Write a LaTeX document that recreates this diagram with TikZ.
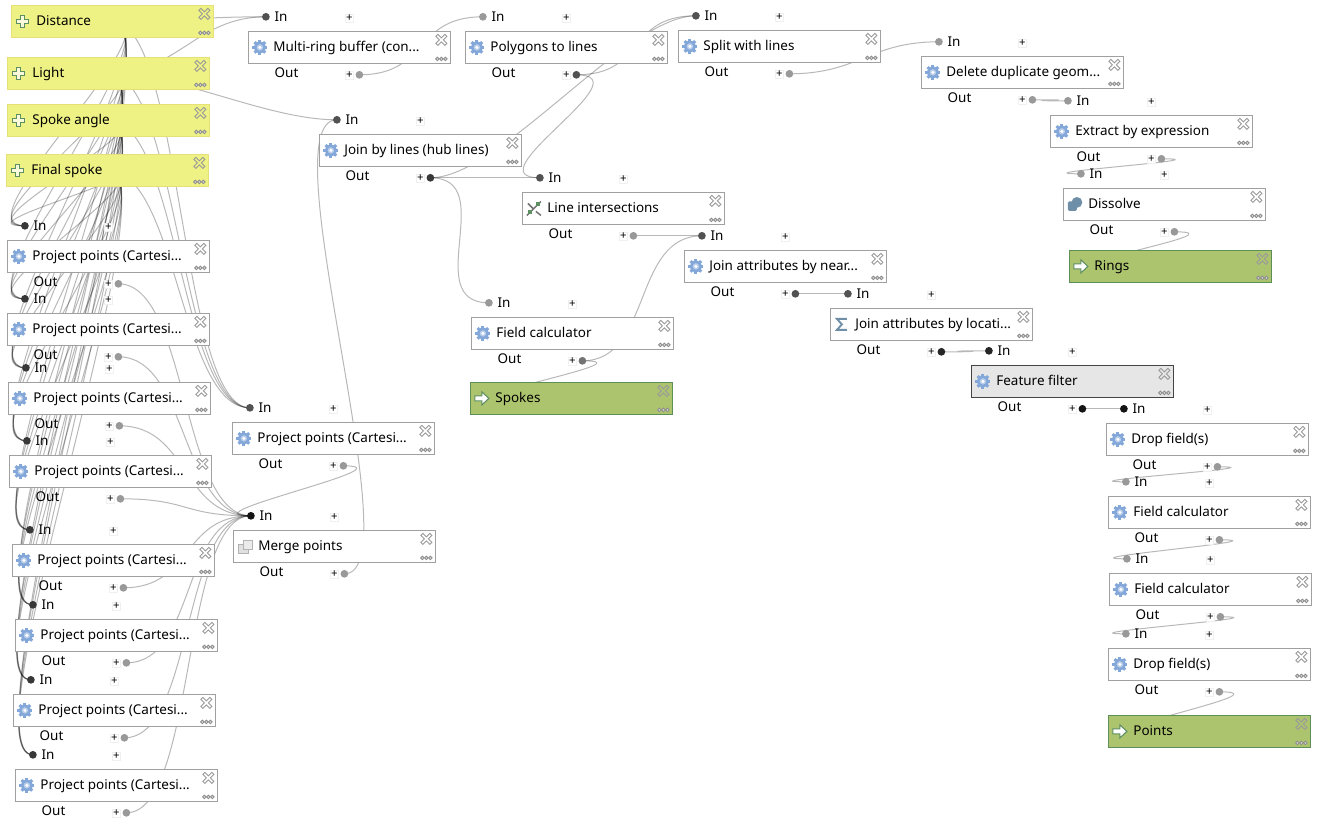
\documentclass[tikz,border=0pt]{standalone}
\usepackage{fontspec}
\setmainfont{Noto Sans}
\usetikzlibrary{positioning,backgrounds}
\definecolor{boxline}{HTML}{A0A0A0}
\definecolor{inputfill}{HTML}{EEF184}
\definecolor{inputline}{HTML}{E6E077}
\definecolor{outputfill}{HTML}{ADC46F}
\definecolor{outputline}{HTML}{5E8F57}
\definecolor{selectfill}{HTML}{E6E6E6}
\definecolor{selectline}{HTML}{444444}
\definecolor{gearblue}{HTML}{84A7D9}
\definecolor{crossgreen}{HTML}{5E8F63}
\definecolor{slateblue}{HTML}{6F8FA8}
\tikzset{
  stepbox/.style={draw=boxline,fill=white,line width=.75pt,minimum height=24pt,inner xsep=18.75pt,inner ysep=0pt,font=\fontsize{10.1}{11}\selectfont,text height=7.5pt,text depth=1.5pt},
  inputbox/.style={stepbox,draw=inputline,fill=inputfill},
  outputbox/.style={stepbox,draw=outputline,fill=outputfill},
  selectbox/.style={stepbox,draw=selectline,fill=selectfill},
  portdot/.style={circle,inner sep=0pt,minimum size=5.8pt},
  porttext/.style={inner sep=0pt,anchor=west,font=\fontsize{10.1}{11}\selectfont,text height=7.5pt,text depth=2.5pt},
  plusmark/.style={draw=black!6,fill=white,inner sep=0pt,minimum size=6pt,line width=.4pt,font=\fontsize{8.5}{8.5}\bfseries},
  wire/.style={draw=black,opacity=.28,line width=.75pt,to path={.. controls +(70,0) and +(-70,0) .. (\tikztotarget)}},
  closemark/.pic={
    \draw[black!40,line width=.7pt] (0,2) -- (3.5,5.5) -- (5.5,3.5) -- (2,0) -- (5.5,-3.5) -- (3.5,-5.5) -- (0,-2) -- (-3.5,-5.5) -- (-5.5,-3.5) -- (-2,0) -- (-5.5,3.5) -- (-3.5,5.5) -- cycle;
  },
  moremark/.pic={
    \foreach \dx in {-4,0,4} \draw[black!45,fill=black!15,line width=.6pt] (\dx,0) circle (1.8);
  },
  gearicon/.pic={
    \foreach \a in {0,45,...,315} \draw[gearblue,line width=2.3pt] (\a:4) -- (\a:7.5);
    \fill[gearblue] (0,0) circle (5.8);
    \fill[white!45!gearblue] (0,0) circle (3.2);
    \fill[white] (0,0) circle (1.7);
  },
  inputicon/.pic={
    \draw[crossgreen,fill=white!70!inputfill,line width=.8pt] (-2,-6) -- (2,-6) -- (2,-2) -- (6,-2) -- (6,2) -- (2,2) -- (2,6) -- (-2,6) -- (-2,2) -- (-6,2) -- (-6,-2) -- (-2,-2) -- cycle;
  },
  outputicon/.pic={
    \draw[crossgreen,fill=white,line width=.8pt] (-7,-2.5) -- (0,-2.5) -- (0,-6.5) -- (7,0) -- (0,6.5) -- (0,2.5) -- (-7,2.5) -- cycle;
  },
  mergeicon/.pic={
    \draw[black!30,fill=black!12,line width=.6pt] (-7,-7) rectangle (3,2);
    \draw[black!30,fill=black!8,line width=.6pt] (-2,-3) rectangle (7,6);
  },
  crossicon/.pic={
    \draw[black!55,line width=1.1pt] (-7,-7) -- (7,7) (-6,5) -- (-1,0) (2,-3) -- (7,-7);
    \fill[crossgreen] (2,2) rectangle (6,6);
    \fill[crossgreen] (-6,-6) rectangle (-2,-2);
  },
  sumicon/.pic={
    \draw[slateblue,line width=1.4pt] (5,5.5) -- (-5,5.5) -- (0,0) -- (-5,-5.5) -- (5,-5.5);
  },
  dissolveicon/.pic={
    \fill[slateblue] (2,2) circle (5.4);
    \fill[slateblue,rounded corners=1pt] (-7,-6.5) rectangle (2,3);
  },
}
\newcommand{\plainbox}[6]{
  \node[#1] (#2) at (#3+101,-#4-16) {\makebox[114pt][l]{#5}};
  \pic at ([shift={(12,0)}]#2.west) {#6};
  \pic at ([shift={(-9.5,-9)}]#2.north east) {closemark};
  \pic at ([shift={(-9.5,5)}]#2.south east) {moremark};
}
\newcommand{\stepports}[5]{
  \node[portdot,fill=#4] (#1In) at (#2+17.5,-#3+14.6) {};
  \node[porttext] (#1Intext) at (#2+26,-#3+13.5) {In};
  \node[plusmark] (#1Inplus) at (#2+101,-#3+13.6) {+};
  \node[porttext] (#1Outtext) at (#2+26,-#3-42.5) {Out};
  \node[plusmark] (#1Outplus) at (#2+101,-#3-43.4) {+};
  \node[portdot,fill=#5] (#1Out) at (#2+111,-#3-43.4) {};
}
\newcommand{\stepnode}[8][stepbox]{
  \plainbox{#1}{#2}{#3}{#4}{#5}{#6}
  \stepports{#2}{#3}{#4}{#7}{#8}
}
\begin{document}
\begin{tikzpicture}[x=.75pt,y=.75pt]
\useasboundingbox (-.4,.4) rectangle (1316.6,-825.6);
\plainbox{inputbox}{Distance}{11}{5}{Distance}{inputicon}
\plainbox{inputbox}{Light}{7}{57}{Light}{inputicon}
\plainbox{inputbox}{SpokeAngle}{7}{104}{Spoke angle}{inputicon}
\plainbox{inputbox}{FinalSpoke}{6}{154}{Final spoke}{inputicon}
\stepnode{pp1}{7}{240}{Project points (Cartesi...}{gearicon}{black!78}{black!40}
\stepnode{pp2}{7}{313}{Project points (Cartesi...}{gearicon}{black!78}{black!40}
\stepnode{pp3}{8}{382}{Project points (Cartesi...}{gearicon}{black!78}{black!40}
\stepnode{pp4}{9}{455}{Project points (Cartesi...}{gearicon}{black!78}{black!40}
\stepnode{pp5}{12}{544}{Project points (Cartesi...}{gearicon}{black!78}{black!40}
\stepnode{pp6}{15}{619}{Project points (Cartesi...}{gearicon}{black!78}{black!40}
\stepnode{pp7}{13}{694}{Project points (Cartesi...}{gearicon}{black!78}{black!40}
\stepnode{pp8}{15}{769}{Project points (Cartesi...}{gearicon}{black!78}{black!40}
\stepnode{pp9}{232}{422}{Project points (Cartesi...}{gearicon}{black!68}{black!40}
\stepnode{Merge}{233}{530}{Merge points}{mergeicon}{black!92}{black!40}
\stepnode{MultiRing}{248}{31}{Multi-ring buffer (con...}{gearicon}{black!68}{black!40}
\stepnode{JoinLines}{319}{134}{Join by lines (hub lines)}{gearicon}{black!68}{black!78}
\stepnode{Polygons}{465}{31}{Polygons to lines}{gearicon}{black!40}{black!68}
\stepnode{SplitLines}{678}{30}{Split with lines}{gearicon}{black!68}{black!40}
\stepnode{DeleteDup}{921}{56}{Delete duplicate geom...}{gearicon}{black!40}{black!40}
\stepnode{ExtractExpr}{1050}{115}{Extract by expression}{gearicon}{black!40}{black!40}
\stepnode{Dissolve}{1063}{188}{Dissolve}{dissolveicon}{black!40}{black!40}
\plainbox{outputbox}{Rings}{1069}{250}{Rings}{outputicon}
\stepnode{LineInter}{522}{192}{Line intersections}{crossicon}{black!68}{black!40}
\stepnode{JoinNear}{684}{250}{Join attributes by near...}{gearicon}{black!68}{black!68}
\stepnode{FieldCalc}{471}{317}{Field calculator}{gearicon}{black!40}{black!55}
\plainbox{outputbox}{Spokes}{470}{382}{Spokes}{outputicon}
\stepnode{JoinLoc}{830}{308}{Join attributes by locati...}{sumicon}{black!68}{black!85}
\stepnode[selectbox]{FeatureFilter}{971}{365}{Feature filter}{gearicon}{black!85}{black!92}
\stepnode{DropA}{1106}{423}{Drop field(s)}{gearicon}{black!92}{black!40}
\stepnode{FieldCalcB}{1108}{496}{Field calculator}{gearicon}{black!40}{black!40}
\stepnode{FieldCalcC}{1109}{573}{Field calculator}{gearicon}{black!40}{black!40}
\stepnode{DropB}{1108}{648}{Drop field(s)}{gearicon}{black!40}{black!40}
\plainbox{outputbox}{Points}{1108}{715}{Points}{outputicon}
\begin{pgfonlayer}{background}
\foreach \source in {Distance,Light,SpokeAngle,FinalSpoke}
  \foreach \target in {1,...,9}
    \path[wire] (\source.center) edge (pp\target In.center);
\foreach \source in {1,...,9}
  \path[wire] (pp\source Out.center) edge (MergeIn.center);
\path[wire]
  (Distance.center) edge (MultiRingIn.center)
  (Light.center) edge (MultiRingIn.center)
  edge (JoinLinesIn.center)
  (MergeOut.center) edge (JoinLinesIn.center)
  (MultiRingOut.center) edge (PolygonsIn.center)
  (PolygonsOut.center) edge (SplitLinesIn.center)
  edge (LineInterIn.center)
  (JoinLinesOut.center) edge (SplitLinesIn.center)
  edge (LineInterIn.center)
  edge (FieldCalcIn.center)
  (SplitLinesOut.center) edge (DeleteDupIn.center)
  (DeleteDupOut.center) edge (ExtractExprIn.center)
  (ExtractExprOut.center) edge (DissolveIn.center)
  (DissolveOut.center) edge ([shift={(40,0)}]Rings.west)
  (LineInterOut.center) edge (JoinNearIn.center)
  (FieldCalcOut.center) edge (JoinNearIn.center)
  edge ([shift={(40,0)}]Spokes.west)
  (JoinNearOut.center) edge (JoinLocIn.center)
  (JoinLocOut.center) edge (FeatureFilterIn.center)
  (FeatureFilterOut.center) edge (DropAIn.center)
  (DropAOut.center) edge (FieldCalcBIn.center)
  (FieldCalcBOut.center) edge (FieldCalcCIn.center)
  (FieldCalcCOut.center) edge (DropBIn.center)
  (DropBOut.center) edge ([shift={(40,0)}]Points.west);
\end{pgfonlayer}
\end{tikzpicture}
\end{document}
